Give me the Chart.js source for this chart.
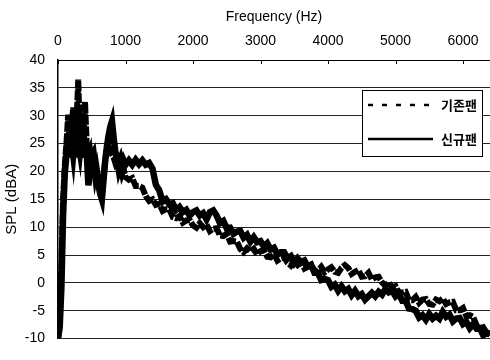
<!DOCTYPE html>
<html><head><meta charset="utf-8">
<script src="https://cdn.jsdelivr.net/npm/chart.js@4.4.0/dist/chart.umd.min.js"></script>
<style>html,body{margin:0;padding:0;background:#fff}#wrap{width:490px;height:360px}</style>
</head><body><div id="wrap"><canvas id="c" width="490" height="360"></canvas></div>
<script>
const freqs = [0,25,50,75,100,125,150,175,200,225,250,275,300,325,350,375,400,425,450,475,500,525,550,575,600,625,650,675,700,725,750,775,800,825,850,875,900,925,950,975,1000,
1050,1100,1150,1200,1250,1300,1350,1400,1450,1500,1550,1600,1650,1700,1750,1800,1850,1900,1950,2000,2050,2100,2150,2200,2250,2300,2350,2400,2450,2500,2550,2600,2650,2700,2750,2800,2850,2900,2950,3000,3050,3100,3150,3200,3250,3300,3350,3400,3450,3500,3550,3600,3650,3700,3750,3800,3850,3900,3950,4000,4050,4100,4150,4200,4250,4300,4350,4400,4450,4500,4550,4600,4650,4700,4750,4800,4850,4900,4950,5000,5050,5100,5150,5200,5250,5300,5350,5400,5450,5500,5550,5600,5650,5700,5750,5800,5850,5900,5950,6000,6050,6100,6150,6200,6250,6300,6350,6400];

// 기존팬 (dashed)
const existingFan = [-10,-6,3,15,21,25,30.2,23,27.5,31.5,24,29,36.5,25.5,30.5,24,32.5,25,22.5,23.5,20.5,21.5,19,20.5,18.5,17.5,16.5,19,22,24,25.5,24.5,23,22.5,21.5,22,20,21,19.5,20.3,19,
18.5,18.8,17.4,17.4,17.1,15.6,14.7,15.0,14.0,14.2,12.9,13.2,13.2,11.8,11.6,12.0,10.8,11.2,11.3,10.3,9.9,10.7,10.0,10.5,9.3,9.7,9.8,8.5,8.4,8.8,7.4,7.5,7.4,6.1,5.5,6.2,5.6,6.1,5.1,5.7,5.9,4.7,4.6,5.2,4.0,4.4,4.6,3.6,3.1,3.9,3.2,3.7,2.6,3.0,3.3,2.1,2.2,2.9,1.9,2.4,2.8,2.0,1.8,2.7,3.2,2.7,1.6,2.0,2.3,1.1,1.2,1.8,0.6,1.0,1.1,0.1,-0.5,0.1,-0.8,-0.6,-1.8,-1.7,-1.6,-3.1,-3.1,-2.5,-3.6,-3.0,-2.9,-3.8,-3.9,-3.0,-3.3,-2.8,-3.8,-3.5,-3.4,-4.9,-4.9,-4.5,-6.0,-5.8,-6.1,-7.6,-8.3,-8.0,-8.9,-9.4];

// 신규팬 (solid)
const newFan = [-10,-8,-1,12,19.5,23,26,22.5,25.5,23,26.5,22.5,25.5,23.5,26.5,22.5,25,23.5,17.5,20,23,23.5,21,19.5,17.5,16,15,18.5,22,24.5,26.5,28,29,26,23.5,22,21.5,22.3,20.8,21.9,21.2,
22.0,21.2,22.1,21.3,22.0,21.2,21.5,20.5,17.6,16.6,14.6,15.0,14.1,14.3,13.1,13.6,12.7,13.1,12.1,12.7,13.0,12.1,12.5,11.4,12.7,13.0,12.1,10.7,11.1,9.8,9.9,8.8,9.2,9.3,8.1,8.6,7.4,8.2,7.3,7.5,6.5,7.1,6.0,6.3,5.1,5.5,5.5,4.4,4.8,3.6,4.4,3.7,4.0,2.9,3.2,1.8,1.8,0.5,0.7,0.5,-0.7,-0.3,-1.4,-0.6,-1.5,-1.1,-2.2,-1.4,-2.4,-2.0,-3.0,-2.4,-1.8,-2.4,-1.6,-2.1,-1.1,-1.7,-1.4,-2.4,-1.9,-3.2,-3.2,-4.6,-4.7,-5.0,-6.2,-5.8,-6.6,-5.6,-6.4,-5.9,-6.4,-5.2,-6.1,-5.7,-6.9,-6.4,-6.3,-7.4,-7.0,-8.1,-7.4,-8.2,-8.1,-9.4,-8.9,-9.2];

const xTicks = [0,1000,2000,3000,4000,5000,6000];
const yTicks = [-10,-5,0,5,10,15,20,25,30,35,40];
const seriesNames = ['기존팬','신규팬'];
const xTitle = 'Frequency (Hz)';
const yTitle = 'SPL (dBA)';

const toPts = arr => arr.map((v,i)=>({x:freqs[i], y:v}));
const FONT = "'Liberation Sans', Arial, sans-serif";

const innerTicks = {
  id:'innerTicks',
  afterDraw(chart){
    const ctx = chart.ctx, xs = chart.scales.x, top = chart.chartArea.top;
    ctx.save(); ctx.strokeStyle='#000'; ctx.lineWidth=1;
    xs.ticks.forEach(t=>{
      const px = Math.round(xs.getPixelForValue(t.value))+0.5;
      ctx.beginPath(); ctx.moveTo(px, top); ctx.lineTo(px, top+4); ctx.stroke();
    });
    ctx.restore();
  }
};

const boxLegend = {
  id:'boxLegend',
  afterDatasetsDraw(chart){
    const ctx = chart.ctx;
    ctx.save();
    const x0=362, y0=90, w=120, h=66;
    ctx.fillStyle='#fff'; ctx.fillRect(x0,y0,w,h);
    ctx.strokeStyle='#000'; ctx.lineWidth=1; ctx.strokeRect(x0+0.5,y0+0.5,w,h);
    const rows = [{y:105, ds:chart.data.datasets[0], x2:430}, {y:139, ds:chart.data.datasets[1], x2:433}];
    ctx.font = "bold 13px 'Noto Sans CJK KR', sans-serif";
    ctx.textAlign='right'; ctx.textBaseline='middle'; ctx.fillStyle='#000';
    rows.forEach((r,i)=>{
      ctx.beginPath();
      ctx.lineWidth = 2.5;
      ctx.setLineDash(i===0 ? [5,9] : []);
      ctx.moveTo(368, r.y); ctx.lineTo(r.x2, r.y); ctx.stroke();
      ctx.setLineDash([]);
      ctx.fillText(r.ds.label, 477, r.y);
    });
    ctx.restore();
  }
};

new Chart(document.getElementById('c'), {
  type:'line',
  data:{
    datasets:[
      {label:seriesNames[0], data:toPts(existingFan), borderColor:'#000', borderWidth:6, borderDash:[10,1.5], pointRadius:0, tension:0, fill:false},
      {label:seriesNames[1], data:toPts(newFan), borderColor:'#000', borderWidth:6.5, pointRadius:0, tension:0, fill:false}
    ]
  },
  options:{
    responsive:false, animation:false, devicePixelRatio:1,
    layout:{padding:{left:0,right:0,top:0,bottom:5}},
    plugins:{legend:{display:false}, tooltip:{enabled:false}},
    scales:{
      x:{
        type:'linear', position:'top', min:0, max:6400,
        afterBuildTicks(s){ s.ticks = xTicks.map(v=>({value:v})); },
        afterFit(s){ s.height = 60; },
        grid:{display:false},
        border:{display:true, color:'#000', width:1},
        ticks:{color:'#000', font:{family:FONT, size:14}, padding:2, maxRotation:0, autoSkip:false, callback:v=>String(v)},
        title:{display:true, text:xTitle, color:'#000', font:{family:FONT, size:14}, padding:{top:9,bottom:0}}
      },
      y:{
        type:'linear', position:'left', min:-10, max:40,
        afterBuildTicks(s){ s.ticks = yTicks.map(v=>({value:v})); },
        afterFit(s){ s.width = 58; },
        grid:{color:'#222', lineWidth:1, drawTicks:false},
        border:{display:true, color:'#000', width:1.5},
        ticks:{color:'#000', font:{family:FONT, size:14}, padding:13, autoSkip:false, callback:v=>String(v)},
        title:{display:true, text:yTitle, color:'#000', font:{family:FONT, size:15}, padding:{top:3,bottom:0}}
      }
    }
  },
  plugins:[innerTicks, boxLegend]
});
</script></body></html>
